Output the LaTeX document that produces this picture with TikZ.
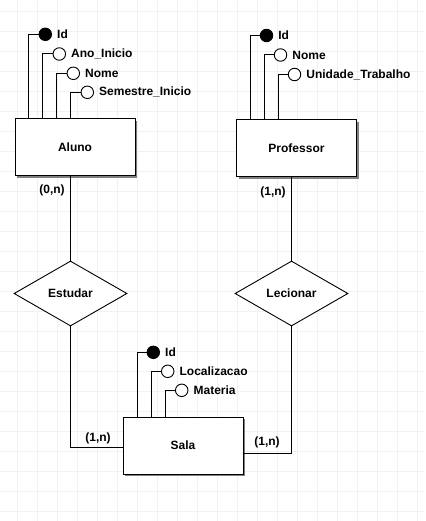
\documentclass[tikz,border=0pt]{standalone}
\usepackage{fontspec}
\setmainfont{Liberation Sans}
\usetikzlibrary{shapes.geometric,shadows,calc}
\definecolor{gridc}{RGB}{238,241,245}
\definecolor{shadowc}{RGB}{128,128,128}
\tikzset{
  every node/.style={font=\fontsize{12}{14}\selectfont\bfseries},
  entity/.style={draw=black, line width=1pt, fill=white, minimum width=120pt, minimum height=57pt, inner sep=0pt,
    drop shadow={shadow xshift=2pt, shadow yshift=-2pt, fill=shadowc, opacity=1}},
  relation/.style={draw=black, line width=0.9pt, fill=white, diamond, minimum width=113pt, minimum height=65pt, inner sep=0pt},
  attr/.style={circle, draw=black, line width=0.9pt, fill=white, minimum size=12.5pt, inner sep=0pt},
  keyattr/.style={attr, fill=black},
  alabel/.style={anchor=west, inner sep=0pt},
  conn/.style={line width=1pt, draw=black},
  card/.style={inner sep=0pt}
}
\begin{document}
\begin{tikzpicture}[x=1pt,y=-1pt]
\useasboundingbox (0,0) rectangle (425,521);
\fill[white] (0,0) rectangle (425,521);
% grid
\foreach \gx in {17,37,...,417} {\draw[gridc, line width=1pt] (\gx,0) -- (\gx,521);}
\foreach \gy in {11.5,31.5,...,511.5} {\draw[gridc, line width=1pt] (0,\gy) -- (425,\gy);}

% entities
\node[entity] (aluno) at (75,147.5) {Aluno};
\node[entity] (prof) at (296.5,148.5) {Professor};
\node[entity] (sala) at (183,445.5) {Sala};

% relationships
\node[relation] (estudar) at (70.5,293.5) {Estudar};
\node[relation] (lecionar) at (291.5,293.5) {Lecionar};

% Aluno attributes
\node[keyattr] (a1) at (45.3,34.3) {};
\node[attr] (a2) at (59.3,54) {};
\node[attr] (a3) at (73.3,73.3) {};
\node[attr] (a4) at (87.3,92.3) {};
\draw[conn] (a1.west) -| ([xshift=14pt]aluno.north west);
\draw[conn] (a2.west) -| ([xshift=28pt]aluno.north west);
\draw[conn] (a3.west) -| ([xshift=42pt]aluno.north west);
\draw[conn] (a4.west) -| ([xshift=56pt]aluno.north west);
\node[alabel] (ta1) at ([xshift=5pt]a1.east) {Id};
\node[alabel] (ta2) at ([xshift=5pt]a2.east) {Ano\_Inicio};
\node[alabel] (ta3) at ([xshift=5pt]a3.east) {Nome};
\node[alabel] (ta4) at ([xshift=5pt]a4.east) {Semestre\_Inicio};

% Professor attributes
\node[keyattr] (p1) at (266.5,35.5) {};
\node[attr] (p2) at (280.5,55) {};
\node[attr] (p3) at (294.5,74.5) {};
\draw[conn] (p1.west) -| ([xshift=14pt]prof.north west);
\draw[conn] (p2.west) -| ([xshift=28pt]prof.north west);
\draw[conn] (p3.west) -| ([xshift=42pt]prof.north west);
\node[alabel] (tp1) at ([xshift=5pt]p1.east) {Id};
\node[alabel] (tp2) at ([xshift=5pt]p2.east) {Nome};
\node[alabel] (tp3) at ([xshift=5pt]p3.east) {Unidade\_Trabalho};

% Sala attributes
\node[keyattr] (s1) at (153.3,352.3) {};
\node[attr] (s2) at (167.7,371.3) {};
\node[attr] (s3) at (181.7,390.3) {};
\draw[conn] (s1.west) -| ([xshift=14.7pt]sala.north west);
\draw[conn] (s2.west) -| ([xshift=28.7pt]sala.north west);
\draw[conn] (s3.west) -| ([xshift=42.7pt]sala.north west);
\node[alabel] (ts1) at ([xshift=5pt]s1.east) {Id};
\node[alabel] (ts2) at ([xshift=5pt]s2.east) {Localizacao};
\node[alabel] (ts3) at ([xshift=5pt]s3.east) {Materia};

% relationship connectors
\draw[conn] (estudar.north) -- (estudar.north |- aluno.south);
\draw[conn] (estudar.south) |- ([yshift=-2pt]sala.west);
\draw[conn] (lecionar.north) -- (lecionar.north |- prof.south);
\draw[conn] (lecionar.south) |- ([yshift=-8pt]sala.east);

% cardinalities
\node[card] (c1) at (52,190) {(0,n)};
\node[card] (c2) at (273,192) {(1,n)};
\node[card] (c3) at (98,438.3) {(1,n)};
\node[card] (c4) at (267,442.3) {(1,n)};
\end{tikzpicture}
\end{document}
